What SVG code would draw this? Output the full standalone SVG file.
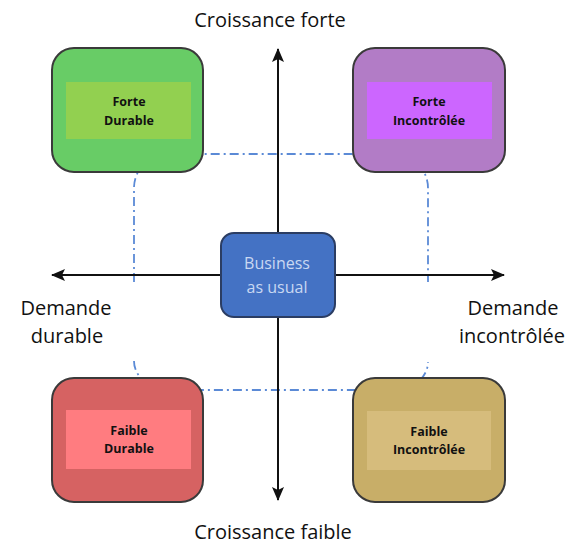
<svg xmlns="http://www.w3.org/2000/svg" width="576" height="544" viewBox="0 0 576 544">
<defs>
<style>
.box{stroke:#3a3a3a;stroke-width:2}
.lbl{font-family:"Open Sans","Liberation Sans",sans-serif;font-size:12.5px;font-weight:bold;fill:#111;text-anchor:middle}
.axl{font-family:"Open Sans","Liberation Sans",sans-serif;font-size:20px;fill:#111;text-anchor:middle}
.axis{stroke:#111;stroke-width:2;fill:none}
.dash{stroke:#5b8ad6;stroke-width:1.8;fill:none;stroke-dasharray:9 4 2 4}
</style>
<marker id="arr" viewBox="0 0 14 12" refX="13" refY="6" markerWidth="14" markerHeight="12" markerUnits="userSpaceOnUse" orient="auto">
<path d="M0,0 L14,6 L0,12 L3,6 Z" fill="#111"/>
</marker>
</defs>
<rect width="576" height="544" fill="#fff"/>
<g id="connectors">
<path class="dash" d="M134,282 V188 A34,34 0 0 1 168,154 H394 A34,34 0 0 1 428,188 V282"/>
<path class="dash" d="M134,361 A36,29 0 0 0 170,390 H394 A34,28 0 0 0 428,362"/>
<line class="axis" x1="278" y1="275" x2="278" y2="49" marker-end="url(#arr)"/>
<line class="axis" x1="278" y1="275" x2="278" y2="500" marker-end="url(#arr)"/>
<line class="axis" x1="278" y1="275" x2="52" y2="275" marker-end="url(#arr)"/>
<line class="axis" x1="278" y1="275" x2="504" y2="275" marker-end="url(#arr)"/>
</g>
<g id="forte-durable">
<rect class="box" x="52" y="48" width="151" height="124" rx="22" fill="#68cc66"/>
<rect x="66" y="82" width="125" height="57" fill="#92d050"/>
<text class="lbl" x="129" y="106">Forte</text>
<text class="lbl" x="129" y="125">Durable</text>
</g>
<g id="forte-incontrolee">
<rect class="box" x="353" y="48" width="152" height="124" rx="22" fill="#b27cc6"/>
<rect x="367" y="82" width="125" height="57" fill="#cc66ff"/>
<text class="lbl" x="429" y="106">Forte</text>
<text class="lbl" x="429" y="125">Incontrôlée</text>
</g>
<g id="faible-durable">
<rect class="box" x="52" y="378" width="151" height="124" rx="22" fill="#d66262"/>
<rect x="66" y="410" width="125" height="59" fill="#ff7c80"/>
<text class="lbl" x="129" y="435">Faible</text>
<text class="lbl" x="129" y="453">Durable</text>
</g>
<g id="faible-incontrolee">
<rect class="box" x="353" y="378" width="152" height="124" rx="22" fill="#c8ae68"/>
<rect x="367" y="411" width="124" height="59" fill="#d6bc7c"/>
<text class="lbl" x="429" y="436">Faible</text>
<text class="lbl" x="429" y="454">Incontrôlée</text>
</g>
<g id="business-as-usual">
<rect x="221" y="233" width="114" height="84" rx="13" fill="#4472c4" stroke="#2b3d63" stroke-width="2"/>
<text x="277" y="269" font-family="Open Sans, Liberation Sans, sans-serif" font-size="16" fill="#c9d8f2" text-anchor="middle">Business</text>
<text x="277" y="293" font-family="Open Sans, Liberation Sans, sans-serif" font-size="16" fill="#c9d8f2" text-anchor="middle">as usual</text>
</g>
<g id="labels">
<text class="axl" x="270" y="27">Croissance forte</text>
<text class="axl" x="273" y="539">Croissance faible</text>
<text class="axl" x="66" y="315">Demande</text>
<text class="axl" x="67" y="343">durable</text>
<text class="axl" x="513" y="315">Demande</text>
<text class="axl" x="512" y="343">incontrôlée</text>
</g>
</svg>
